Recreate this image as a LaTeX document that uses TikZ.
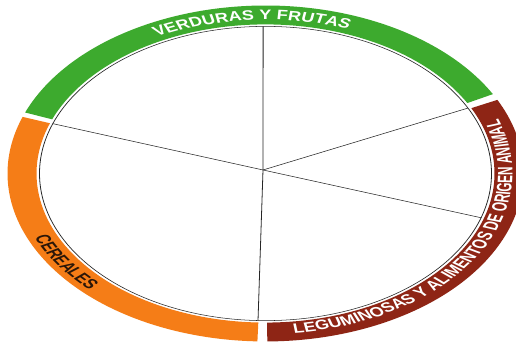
\documentclass[tikz,border=0pt]{standalone}
\usepackage{fontspec}
\newfontfamily\lblfont{Liberation Sans}[FakeStretch=0.86]
\usetikzlibrary{decorations.text}
\definecolor{vgreen}{HTML}{3DAA2E}
\definecolor{corange}{HTML}{F57D17}
\definecolor{lbrown}{HTML}{8E2515}
\definecolor{cdark}{HTML}{2A1608}
\newcommand\lblstyle{\lblfont\bfseries\fontsize{21}{23}\selectfont}
\tikzset{
  spoke/.style={draw=black!85, line width=0.8pt},
  rim/.style={draw=black!85, line width=0.8pt},
  arclabel/.style={decorate, decoration={text along path, text align=center, text color=#1}},
}
\begin{document}
\begin{tikzpicture}[x=1pt,y=1pt]
\useasboundingbox (0,0) rectangle (516,345);
\fill[white] (0,0) rectangle (516,345);
\begin{scope}[transform canvas={shift={(265.5,171.5)}, yscale=0.651}]
  % inner rim
  \draw[rim] (0,0) circle[radius=226];
  % coloured bands
  \fill[vgreen] (28.2:229) arc[start angle=28.2, end angle=158.7, radius=229]
     -- (158.7:258) arc[start angle=158.7, end angle=28.2, radius=258] -- cycle;
  \fill[corange] (160.3:229) arc[start angle=160.3, end angle=268.2, radius=229]
     -- (268.2:258) arc[start angle=268.2, end angle=160.3, radius=258] -- cycle;
  \fill[lbrown] (270.4:229) arc[start angle=270.4, end angle=386, radius=229]
     -- (386:258) arc[start angle=386, end angle=270.4, radius=258] -- cycle;
  % spokes
  \coordinate (hub) at (-2.5,5.4);
  \coordinate (pT) at (90.6:226);
  \coordinate (pB) at (268.1:226);
  \coordinate (pUL) at (160.2:226);
  \coordinate (pUR) at (26.4:226);
  \coordinate (pLR) at (-17.5:226);
  \draw[spoke] (hub) -- (pT);
  \draw[spoke] (hub) -- (pB);
  \draw[spoke] (hub) -- (pUL);
  \draw[spoke] (hub) -- (pUR);
  \draw[spoke] (hub) -- (pLR);
  % labels
  \path[arclabel=white, decoration={text={|\lblstyle|VERDURAS Y FRUTAS}}]
    (158.7:236) arc[start angle=158.7, end angle=28.2, radius=236];
  \path[arclabel=cdark, decoration={text={|\lblstyle|CEREALES}}]
    (160.3:251) arc[start angle=160.3, end angle=268.2, radius=251];
  \path[arclabel=white, decoration={text={|\lblstyle|LEGUMINOSAS Y ALIMENTOS DE ORIGEN ANIMAL}}]
    (270.4:247) arc[start angle=270.4, end angle=386, radius=247];
\end{scope}
\end{tikzpicture}
\end{document}
